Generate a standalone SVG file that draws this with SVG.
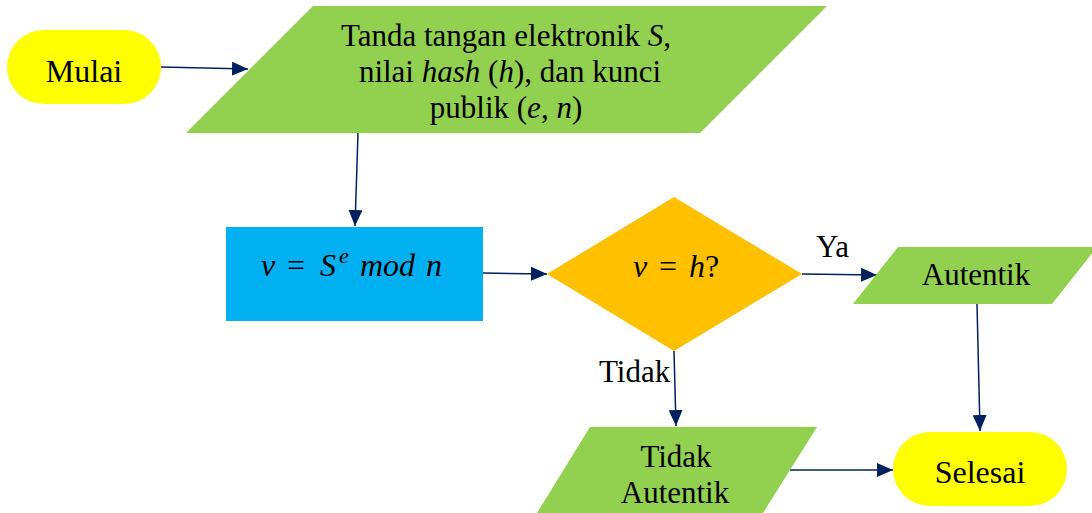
<svg xmlns="http://www.w3.org/2000/svg" width="1092" height="513" viewBox="0 0 1092 513">
<style>
.t{font-family:"Liberation Serif","Times New Roman",serif;font-size:31px;fill:#000;text-anchor:middle}
.l{font-family:"Liberation Serif","Times New Roman",serif;font-size:31px;fill:#000}
.m{font-family:"Liberation Serif","Times New Roman",serif;font-size:32px;fill:#000}
.big{font-size:32px}
.i{font-style:italic}
.c{stroke:#002060;stroke-width:1.5;fill:none;marker-end:url(#ah)}
</style>
<defs>
<marker id="ah" markerUnits="userSpaceOnUse" markerWidth="16" markerHeight="14" refX="16" refY="7" orient="auto">
<path d="M0,0 L16,7 L0,14 z" fill="#002060"/>
</marker>
</defs>
<rect width="1092" height="513" fill="#fff"/>
<g id="connectors">
<line class="c" x1="161" y1="67" x2="248" y2="69"/>
<line class="c" x1="358" y1="133" x2="355" y2="226"/>
<line class="c" x1="483" y1="273" x2="547" y2="274"/>
<line class="c" x1="802" y1="274" x2="877" y2="275"/>
<line class="c" x1="674" y1="351" x2="676" y2="426"/>
<line class="c" x1="977" y1="304" x2="980" y2="431"/>
<line class="c" x1="790" y1="470" x2="893" y2="470"/>
<text class="l" x="816" y="257">Ya</text>
<text class="l" x="599" y="382">Tidak</text>
</g>
<g id="mulai">
<rect x="7" y="30" width="154" height="74" rx="37" ry="37" fill="#FFFF00"/>
<text class="t big" x="84" y="82">Mulai</text>
</g>
<g id="input">
<polygon points="313,6 827,6 700,133 186,133" fill="#92D050"/>
<text class="t" x="506" y="46">Tanda tangan elektronik <tspan class="i">S</tspan>,</text>
<text class="t" x="510" y="82">nilai <tspan class="i">hash</tspan> (<tspan class="i">h</tspan>), dan kunci</text>
<text class="t" x="506" y="118">publik (<tspan class="i">e</tspan>, <tspan class="i">n</tspan>)</text>
</g>
<g id="compute">
<rect x="226" y="227" width="257" height="94" fill="#00B0F0"/>
<text class="m" y="276"><tspan class="i" x="261">v</tspan><tspan x="287">=</tspan><tspan class="i" x="320">S</tspan><tspan class="i" x="339" dy="-13" font-size="22">e</tspan><tspan class="i" x="360" dy="13">mod</tspan><tspan class="i" x="426">n</tspan></text>
</g>
<g id="decision">
<polygon points="547,274 674,197 802,274 674,351" fill="#FFC000"/>
<text class="m" y="277"><tspan class="i" x="633">v</tspan><tspan x="659">=</tspan><tspan class="i" x="689">h</tspan><tspan x="705">?</tspan></text>
</g>
<g id="autentik">
<polygon points="898,247 1097,247 1052,304 853,304" fill="#92D050"/>
<text class="t" x="976" y="285">Autentik</text>
</g>
<g id="tidak-autentik">
<polygon points="590,427 817,427 763,513 537,513" fill="#92D050"/>
<text class="t" x="676" y="467">Tidak</text>
<text class="t" x="675" y="503">Autentik</text>
</g>
<g id="selesai">
<rect x="893" y="432" width="174" height="74" rx="37" ry="37" fill="#FFFF00"/>
<text class="t big" x="980" y="483">Selesai</text>
</g>
</svg>
